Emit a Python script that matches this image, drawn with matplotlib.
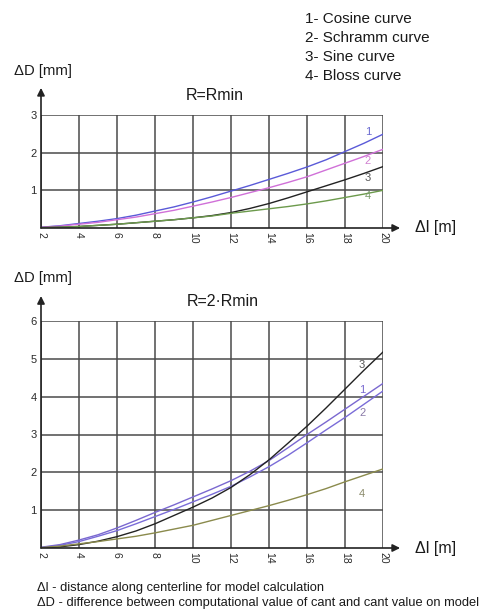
import matplotlib
matplotlib.use("Agg")
import matplotlib.pyplot as plt

plt.rcParams['font.family'] = ['Liberation Sans', 'DejaVu Sans']

x = [2, 3, 4, 5, 6, 7, 8, 9, 10, 11, 12, 13, 14, 15, 16, 17, 18, 19, 20]
x_ticks = [2, 4, 6, 8, 10, 12, 14, 16, 18, 20]

# R = Rmin
top_cosine  = [0.02, 0.06, 0.12, 0.18, 0.25, 0.34, 0.45, 0.56, 0.69, 0.83, 0.98,
               1.13, 1.29, 1.45, 1.62, 1.81, 2.03, 2.25, 2.49]
top_schramm = [0.02, 0.05, 0.10, 0.15, 0.22, 0.29, 0.38, 0.47, 0.58, 0.69, 0.81,
               0.94, 1.07, 1.21, 1.36, 1.54, 1.72, 1.90, 2.09]
top_sine    = [0.01, 0.02, 0.04, 0.07, 0.10, 0.14, 0.18, 0.22, 0.27, 0.33, 0.41,
               0.52, 0.65, 0.80, 0.96, 1.12, 1.28, 1.45, 1.63]
top_bloss   = [0.01, 0.02, 0.04, 0.07, 0.10, 0.14, 0.18, 0.22, 0.27, 0.32, 0.39,
               0.45, 0.51, 0.57, 0.64, 0.72, 0.81, 0.90, 1.00]
top_yticks = [1, 2, 3]

# R = 2*Rmin
bot_cosine  = [0.02, 0.09, 0.21, 0.35, 0.53, 0.73, 0.94, 1.14, 1.35, 1.56, 1.78,
               2.03, 2.31, 2.65, 3.00, 3.33, 3.67, 4.01, 4.35]
bot_schramm = [0.01, 0.07, 0.17, 0.31, 0.46, 0.64, 0.83, 1.02, 1.22, 1.42, 1.63,
               1.88, 2.15, 2.45, 2.78, 3.12, 3.45, 3.80, 4.15]
bot_sine    = [0.00, 0.03, 0.09, 0.18, 0.30, 0.45, 0.64, 0.86, 1.08, 1.32, 1.60,
               1.94, 2.33, 2.77, 3.22, 3.70, 4.20, 4.70, 5.18]
bot_bloss   = [0.01, 0.05, 0.11, 0.17, 0.24, 0.31, 0.40, 0.50, 0.60, 0.73, 0.86,
               0.99, 1.12, 1.26, 1.41, 1.57, 1.75, 1.92, 2.09]
bot_yticks = [1, 2, 3, 4, 5, 6]

legend_lines = ["1- Cosine curve", "2- Schramm curve", "3- Sine curve", "4- Bloss curve"]

W, H = 489, 613
fig = plt.figure(figsize=(W / 100, H / 100), dpi=100)

grid_c = '#4a4a4a'
txt_c = '#2a2a2a'


def px(xp, yp):
    return xp / W, 1 - yp / H


def make_axes(bottom_px, top_px, ymax, yticks, series, colors, lbls, title, title_px, dlabel_px, arrow_top):
    l, b = px(41, bottom_px)
    _, t = px(41, top_px)
    r, _ = px(383, 0)
    ax = fig.add_axes([l, b, r - l, t - b])
    ax.set_xlim(2, 20)
    ax.set_ylim(0, ymax)
    for s in ax.spines.values():
        s.set_visible(False)
    for xv in x_ticks:
        ax.axvline(xv, color=grid_c, lw=1.1, zorder=1)
    for yv in yticks:
        ax.axhline(yv, color=grid_c, lw=1.1, zorder=1)
    for ys, c in zip(series, colors):
        ax.plot(x, ys, color=c, lw=1.0, zorder=3)
    ax.set_xticks(x_ticks)
    ax.set_xticklabels([str(v) for v in x_ticks], rotation=-90, fontsize=7.5, color=txt_c)
    ax.set_yticks(yticks)
    ax.set_yticklabels([str(v) for v in yticks], fontsize=8, color=txt_c)
    ax.tick_params(length=0, pad=3)
    ax.annotate('', xy=(0, arrow_top), xytext=(0, 0), xycoords='axes fraction',
                arrowprops=dict(arrowstyle='-|>', color='#222222', lw=1.2,
                                mutation_scale=11, shrinkA=0, shrinkB=0),
                annotation_clip=False)
    ax.annotate('', xy=(1.05, 0), xytext=(0, 0), xycoords='axes fraction',
                arrowprops=dict(arrowstyle='-|>', color='#222222', lw=1.2,
                                mutation_scale=11, shrinkA=0, shrinkB=0),
                annotation_clip=False)
    for (xl, yl, t_, c) in lbls:
        ax.text(xl, yl, t_, fontsize=8, color=c, ha='center', va='center')
    tx, ty = px(*title_px)
    fig.text(tx, ty, title, fontsize=11.5, color='#1a1a1a', ha='center', va='center')
    dx, dy = px(*dlabel_px)
    fig.text(dx, dy, 'ΔD [mm]', fontsize=10.7, color='#1a1a1a', ha='left', va='center')
    ix, iy = px(415, bottom_px)
    fig.text(ix, iy, 'Δl [m]', fontsize=11.5, color='#1a1a1a', ha='left', va='center')
    return ax


make_axes(228, 115, 3, top_yticks,
          [top_cosine, top_schramm, top_sine, top_bloss],
          ['#5a5ad8', '#d070d8', '#222222', '#6c9a4c'],
          [(19.2, 2.55, '1', '#6a6ad0'), (19.2, 1.78, '2', '#d080d0'),
           (19.2, 1.33, '3', '#555555'), (19.2, 0.85, '4', '#7a9a6a')],
          'R=Rmin', (215, 95), (14, 71), 1.24)

make_axes(548, 321, 6, bot_yticks,
          [bot_cosine, bot_schramm, bot_sine, bot_bloss],
          ['#7a68d0', '#7a6cd8', '#222222', '#8a8a4c'],
          [(18.9, 4.84, '3', '#555555'), (18.9, 4.18, '1', '#7a6ad0'),
           (18.9, 3.58, '2', '#8a7aa8'), (18.9, 1.43, '4', '#8a8a6a')],
          'R=2·Rmin', (223, 301), (14, 278), 1.11)

lx, _ = px(305, 0)
for i, t_ in enumerate(legend_lines):
    _, ly = px(0, 19 + i * 19)
    fig.text(lx, ly, t_, fontsize=11, color='#1a1a1a', ha='left', va='center')

fx, fy = px(37, 588)
fig.text(fx, fy, 'Δl - distance along centerline for model calculation',
         fontsize=9.3, color='#1a1a1a', ha='left', va='center')
fx, fy = px(37, 603)
fig.text(fx, fy, 'ΔD - difference between computational value of cant and cant value on model',
         fontsize=9.3, color='#1a1a1a', ha='left', va='center')

fig.savefig('out.png', dpi=100)
